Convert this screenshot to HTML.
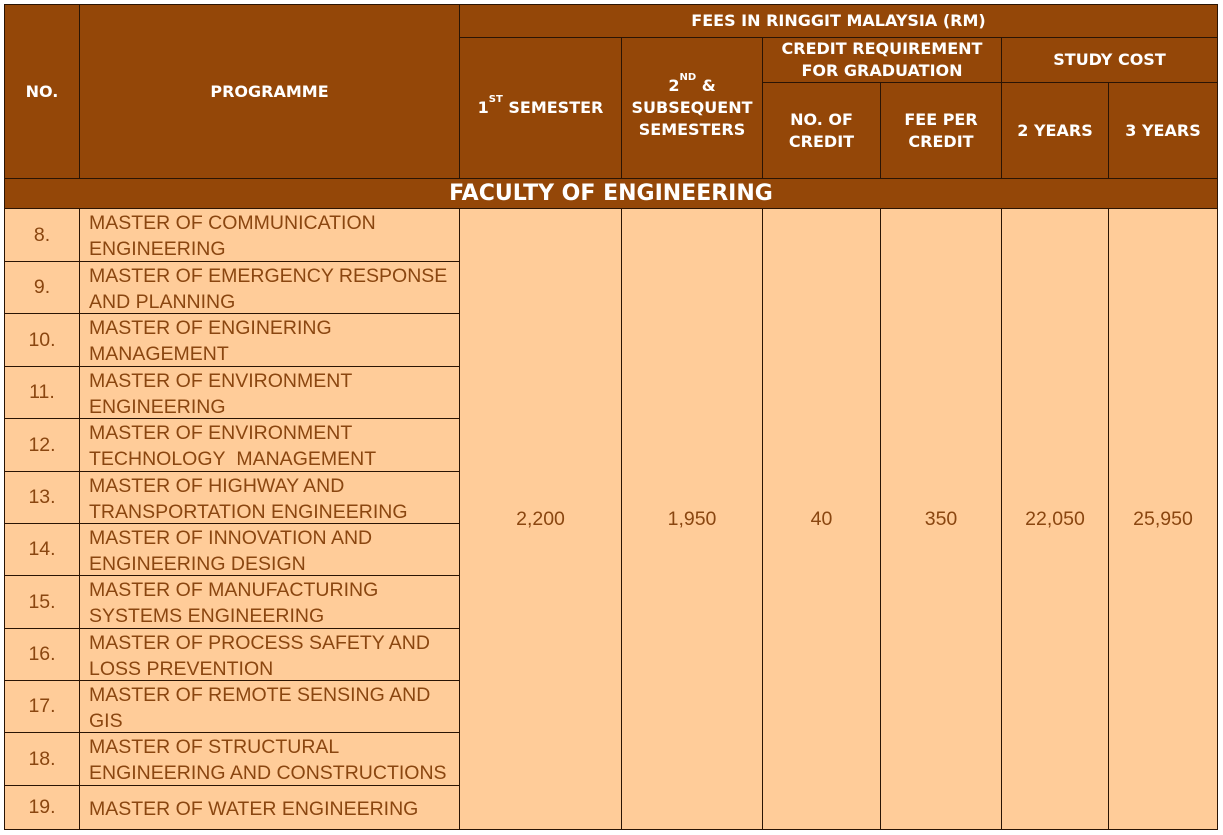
<!DOCTYPE html>
<html><head><meta charset="utf-8"><style>
body{margin:0;width:1223px;height:835px;background:#fff;position:relative;overflow:hidden;font-family:"Liberation Sans","DejaVu Sans",sans-serif}
.c{position:absolute;box-sizing:border-box;display:flex;align-items:center;justify-content:center;text-align:center}
.h{background:#944708;color:#fff;font-weight:bold;font-family:"DejaVu Sans",sans-serif;font-size:16px;line-height:22px;border:1px solid #2a1404}
.b{background:#FFCC99;color:#8a4610;font-size:19.5px;border:1px solid #2a1404}
.p{justify-content:flex-start;text-align:left;padding-left:9px;padding-top:2px;line-height:26px}
sup{font-size:10px;vertical-align:top;line-height:10px;position:relative;top:-2px}
</style></head><body>
<div class="c h" style="left:4px;top:4px;width:76px;height:175px">NO.</div>
<div class="c h" style="left:79px;top:4px;width:381px;height:175px">PROGRAMME</div>
<div class="c h" style="left:459px;top:4px;width:759px;height:34px">FEES IN RINGGIT MALAYSIA (RM)</div>
<div class="c h" style="left:459px;top:37px;width:163px;height:142px"><span>1<sup>ST</sup> SEMESTER</span></div>
<div class="c h" style="left:621px;top:37px;width:142px;height:142px"><span>2<sup>ND</sup> &amp;<br>SUBSEQUENT<br>SEMESTERS</span></div>
<div class="c h" style="left:762px;top:37px;width:240px;height:46px"><span>CREDIT REQUIREMENT<br>FOR GRADUATION</span></div>
<div class="c h" style="left:1001px;top:37px;width:217px;height:46px">STUDY COST</div>
<div class="c h" style="left:762px;top:82px;width:119px;height:97px"><span>NO. OF<br>CREDIT</span></div>
<div class="c h" style="left:880px;top:82px;width:122px;height:97px"><span>FEE PER<br>CREDIT</span></div>
<div class="c h" style="left:1001px;top:82px;width:108px;height:97px">2 YEARS</div>
<div class="c h" style="left:1108px;top:82px;width:110px;height:97px">3 YEARS</div>
<div class="c h" style="left:4px;top:178px;width:1214px;height:31px;font-size:22px">FACULTY OF ENGINEERING</div>

<div class="c b" style="left:4px;top:208px;width:76px;height:54px">8.</div>
<div class="c b p" style="left:79px;top:208px;width:381px;height:54px">MASTER OF COMMUNICATION<br>ENGINEERING</div>
<div class="c b" style="left:4px;top:261px;width:76px;height:53px">9.</div>
<div class="c b p" style="left:79px;top:261px;width:381px;height:53px">MASTER OF EMERGENCY RESPONSE<br>AND PLANNING</div>
<div class="c b" style="left:4px;top:313px;width:76px;height:54px">10.</div>
<div class="c b p" style="left:79px;top:313px;width:381px;height:54px">MASTER OF ENGINERING<br>MANAGEMENT</div>
<div class="c b" style="left:4px;top:366px;width:76px;height:53px">11.</div>
<div class="c b p" style="left:79px;top:366px;width:381px;height:53px">MASTER OF ENVIRONMENT<br>ENGINEERING</div>
<div class="c b" style="left:4px;top:418px;width:76px;height:54px">12.</div>
<div class="c b p" style="left:79px;top:418px;width:381px;height:54px">MASTER OF ENVIRONMENT<br>TECHNOLOGY&nbsp; MANAGEMENT</div>
<div class="c b" style="left:4px;top:471px;width:76px;height:53px">13.</div>
<div class="c b p" style="left:79px;top:471px;width:381px;height:53px">MASTER OF HIGHWAY AND<br>TRANSPORTATION ENGINEERING</div>
<div class="c b" style="left:4px;top:523px;width:76px;height:53px">14.</div>
<div class="c b p" style="left:79px;top:523px;width:381px;height:53px">MASTER OF INNOVATION AND<br>ENGINEERING DESIGN</div>
<div class="c b" style="left:4px;top:575px;width:76px;height:54px">15.</div>
<div class="c b p" style="left:79px;top:575px;width:381px;height:54px">MASTER OF MANUFACTURING<br>SYSTEMS ENGINEERING</div>
<div class="c b" style="left:4px;top:628px;width:76px;height:53px">16.</div>
<div class="c b p" style="left:79px;top:628px;width:381px;height:53px">MASTER OF PROCESS SAFETY AND<br>LOSS PREVENTION</div>
<div class="c b" style="left:4px;top:680px;width:76px;height:53px">17.</div>
<div class="c b p" style="left:79px;top:680px;width:381px;height:53px">MASTER OF REMOTE SENSING AND<br>GIS</div>
<div class="c b" style="left:4px;top:732px;width:76px;height:54px">18.</div>
<div class="c b p" style="left:79px;top:732px;width:381px;height:54px">MASTER OF STRUCTURAL<br>ENGINEERING AND CONSTRUCTIONS</div>
<div class="c b" style="left:4px;top:785px;width:76px;height:45px">19.</div>
<div class="c b p" style="left:79px;top:785px;width:381px;height:45px">MASTER OF WATER ENGINEERING</div>

<div class="c b" style="left:459px;top:208px;width:163px;height:622px">2,200</div>
<div class="c b" style="left:621px;top:208px;width:142px;height:622px">1,950</div>
<div class="c b" style="left:762px;top:208px;width:119px;height:622px">40</div>
<div class="c b" style="left:880px;top:208px;width:122px;height:622px">350</div>
<div class="c b" style="left:1001px;top:208px;width:108px;height:622px">22,050</div>
<div class="c b" style="left:1108px;top:208px;width:110px;height:622px">25,950</div>
</body></html>
